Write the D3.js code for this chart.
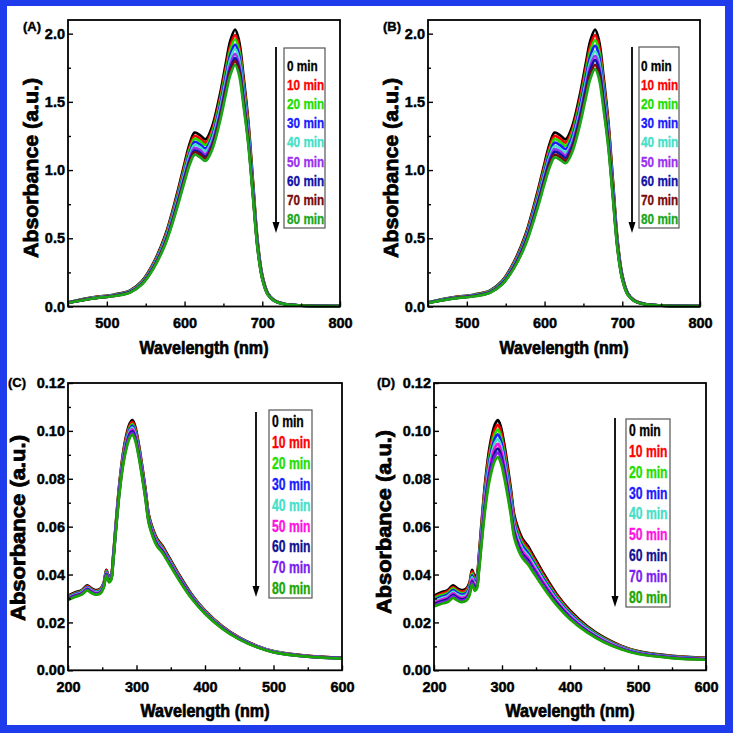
<!DOCTYPE html>
<html><head><meta charset="utf-8">
<script src="https://cdn.jsdelivr.net/npm/d3@7"></script>
<style>html,body{margin:0;padding:0;background:#fff;} svg{display:block;}</style>
</head><body><svg id="c" width="734" height="734"></svg>
<script>
// ---------- data ----------
const times = ["0 min","10 min","20 min","30 min","40 min","50 min","60 min","70 min","80 min"];
const colorsAB = ["#000000","#ff0000","#22dd00","#1a1aff","#44e0c8","#9b30f0","#1010a8","#7a0a0a","#1aa61a"];
const colorsCD = ["#000000","#ff0000","#22dd00","#1a1aff","#44e0c8","#ff10e0","#101090","#7a1cf0","#1aa600"];

const xTicksAB = [500,600,700,800], xMinorAB = [450,550,650,750];
const yTicksAB = [0,0.5,1.0,1.5,2.0], yMinorAB = [0.25,0.75,1.25,1.75];
const xTicksCD = [200,300,400,500,600], xMinorCD = [250,350,450,550];
const yTicksCD = [0,0.02,0.04,0.06,0.08,0.10,0.12], yMinorCD = [0.01,0.03,0.05,0.07,0.09,0.11];

const wlAB = [450,480,510,530,545,560,575,590,600,607,613,620,627,635,645,653,659,665,670,676,682,688,694,700,707,715,728,750,800];
const a00 = [0.030,0.065,0.088,0.118,0.185,0.320,0.520,0.820,1.050,1.200,1.275,1.255,1.225,1.310,1.540,1.780,1.950,2.030,1.950,1.680,1.360,0.920,0.480,0.230,0.100,0.048,0.020,0.008,0.003];
const a10 = [0.029,0.064,0.086,0.116,0.181,0.314,0.510,0.804,1.029,1.176,1.250,1.230,1.201,1.284,1.509,1.744,1.911,1.989,1.911,1.646,1.333,0.902,0.470,0.225,0.098,0.047,0.020,0.008,0.003];
const a20 = [0.029,0.063,0.085,0.114,0.179,0.309,0.502,0.791,1.013,1.158,1.230,1.211,1.182,1.264,1.486,1.718,1.882,1.959,1.882,1.621,1.312,0.888,0.463,0.222,0.097,0.046,0.019,0.008,0.003];
const a30 = [0.028,0.061,0.083,0.112,0.175,0.303,0.492,0.776,0.993,1.135,1.206,1.187,1.159,1.239,1.457,1.684,1.845,1.920,1.845,1.589,1.287,0.870,0.454,0.218,0.095,0.045,0.019,0.008,0.003];
const a40 = [0.028,0.060,0.082,0.110,0.172,0.298,0.484,0.763,0.977,1.116,1.186,1.167,1.139,1.218,1.432,1.655,1.814,1.888,1.814,1.562,1.265,0.856,0.446,0.214,0.093,0.045,0.019,0.007,0.003];
const a50 = [0.027,0.059,0.080,0.108,0.169,0.292,0.474,0.748,0.958,1.094,1.163,1.145,1.117,1.195,1.404,1.623,1.778,1.851,1.778,1.532,1.240,0.839,0.438,0.210,0.091,0.044,0.018,0.007,0.003];
const a60 = [0.027,0.058,0.079,0.106,0.166,0.287,0.466,0.736,0.942,1.076,1.144,1.126,1.099,1.175,1.381,1.597,1.749,1.821,1.749,1.507,1.220,0.825,0.431,0.206,0.090,0.043,0.018,0.007,0.003];
const a70 = [0.027,0.058,0.078,0.105,0.164,0.284,0.461,0.727,0.930,1.063,1.130,1.112,1.085,1.161,1.364,1.577,1.728,1.799,1.728,1.488,1.205,0.815,0.425,0.204,0.089,0.043,0.018,0.007,0.003];
const a80 = [0.026,0.057,0.077,0.103,0.161,0.279,0.453,0.715,0.916,1.046,1.112,1.094,1.068,1.142,1.343,1.552,1.700,1.770,1.700,1.465,1.186,0.802,0.419,0.201,0.087,0.042,0.017,0.007,0.003];

const b00 = [0.030,0.065,0.088,0.118,0.185,0.320,0.520,0.820,1.050,1.200,1.275,1.255,1.225,1.310,1.540,1.780,1.950,2.030,1.950,1.680,1.360,0.920,0.480,0.230,0.100,0.048,0.020,0.008,0.003];
const b10 = [0.029,0.064,0.086,0.116,0.181,0.314,0.510,0.804,1.029,1.176,1.250,1.230,1.201,1.284,1.509,1.744,1.911,1.989,1.911,1.646,1.333,0.902,0.470,0.225,0.098,0.047,0.020,0.008,0.003];
const b20 = [0.029,0.063,0.085,0.114,0.178,0.308,0.500,0.789,1.010,1.154,1.227,1.207,1.178,1.260,1.481,1.712,1.876,1.953,1.876,1.616,1.308,0.885,0.462,0.221,0.096,0.046,0.019,0.008,0.003];
const b30 = [0.028,0.061,0.083,0.111,0.174,0.301,0.490,0.772,0.989,1.130,1.201,1.182,1.154,1.234,1.451,1.677,1.837,1.912,1.837,1.583,1.281,0.867,0.452,0.217,0.094,0.045,0.019,0.008,0.003];
const b40 = [0.028,0.060,0.081,0.109,0.171,0.295,0.479,0.756,0.968,1.106,1.176,1.157,1.129,1.208,1.420,1.641,1.798,1.872,1.798,1.549,1.254,0.848,0.443,0.212,0.092,0.044,0.018,0.007,0.003];
const b50 = [0.027,0.059,0.080,0.107,0.167,0.290,0.471,0.742,0.950,1.086,1.154,1.136,1.109,1.186,1.394,1.611,1.765,1.837,1.765,1.520,1.231,0.833,0.434,0.208,0.091,0.043,0.018,0.007,0.003];
const b60 = [0.027,0.058,0.078,0.105,0.165,0.285,0.463,0.730,0.935,1.068,1.135,1.117,1.090,1.166,1.371,1.584,1.736,1.807,1.736,1.495,1.210,0.819,0.427,0.205,0.089,0.043,0.018,0.007,0.003];
const b70 = [0.026,0.057,0.077,0.103,0.162,0.279,0.454,0.716,0.917,1.048,1.113,1.096,1.069,1.144,1.344,1.554,1.702,1.772,1.702,1.467,1.187,0.803,0.419,0.201,0.087,0.042,0.017,0.007,0.003];
const b80 = [0.026,0.056,0.075,0.101,0.159,0.274,0.446,0.703,0.900,1.028,1.093,1.076,1.050,1.123,1.320,1.525,1.671,1.740,1.671,1.440,1.166,0.788,0.411,0.197,0.086,0.041,0.017,0.007,0.003];

const wlCD = [200,210,220,228,233,240,247,252,256,260,263,266,270,275,280,285,290,294,298,303,308,313,318,324,330,338,346,360,380,400,425,450,475,500,550,600];
const c00 = [0.0312,0.0325,0.0335,0.0355,0.0345,0.0335,0.0340,0.0365,0.0420,0.0390,0.0400,0.0480,0.0620,0.0780,0.0900,0.0980,0.1030,0.1045,0.1020,0.0950,0.0860,0.0760,0.0650,0.0590,0.0550,0.0520,0.0480,0.0410,0.0320,0.0250,0.0185,0.0137,0.0103,0.0080,0.0060,0.0052];
const c10 = [0.0310,0.0322,0.0332,0.0352,0.0342,0.0332,0.0337,0.0362,0.0417,0.0387,0.0397,0.0476,0.0615,0.0774,0.0893,0.0972,0.1022,0.1037,0.1012,0.0942,0.0853,0.0754,0.0645,0.0585,0.0546,0.0516,0.0476,0.0407,0.0317,0.0248,0.0184,0.0136,0.0102,0.0079,0.0060,0.0052];
const c20 = [0.0307,0.0320,0.0330,0.0349,0.0339,0.0330,0.0335,0.0359,0.0413,0.0384,0.0394,0.0472,0.0610,0.0768,0.0886,0.0964,0.1014,0.1028,0.1004,0.0935,0.0846,0.0748,0.0640,0.0581,0.0541,0.0512,0.0472,0.0403,0.0315,0.0246,0.0182,0.0135,0.0101,0.0079,0.0059,0.0051];
const c30 = [0.0305,0.0318,0.0327,0.0347,0.0337,0.0327,0.0332,0.0357,0.0410,0.0381,0.0391,0.0469,0.0606,0.0762,0.0879,0.0957,0.1006,0.1021,0.0997,0.0928,0.0840,0.0743,0.0635,0.0576,0.0537,0.0508,0.0469,0.0401,0.0313,0.0244,0.0181,0.0134,0.0101,0.0078,0.0059,0.0051];
const c40 = [0.0303,0.0315,0.0325,0.0344,0.0335,0.0325,0.0330,0.0354,0.0407,0.0378,0.0388,0.0466,0.0601,0.0757,0.0873,0.0951,0.0999,0.1014,0.0989,0.0922,0.0834,0.0737,0.0631,0.0572,0.0534,0.0504,0.0466,0.0398,0.0310,0.0243,0.0179,0.0133,0.0100,0.0078,0.0058,0.0050];
const c50 = [0.0300,0.0313,0.0323,0.0342,0.0332,0.0323,0.0327,0.0351,0.0404,0.0376,0.0385,0.0462,0.0597,0.0751,0.0867,0.0944,0.0992,0.1006,0.0982,0.0915,0.0828,0.0732,0.0626,0.0568,0.0530,0.0501,0.0462,0.0395,0.0308,0.0241,0.0178,0.0132,0.0099,0.0077,0.0058,0.0050];
const c60 = [0.0298,0.0311,0.0320,0.0339,0.0330,0.0320,0.0325,0.0349,0.0402,0.0373,0.0382,0.0459,0.0593,0.0746,0.0860,0.0937,0.0985,0.0999,0.0975,0.0908,0.0822,0.0727,0.0621,0.0564,0.0526,0.0497,0.0459,0.0392,0.0306,0.0239,0.0177,0.0131,0.0098,0.0076,0.0057,0.0050];
const c70 = [0.0296,0.0308,0.0318,0.0337,0.0327,0.0318,0.0323,0.0346,0.0399,0.0370,0.0380,0.0456,0.0588,0.0740,0.0854,0.0930,0.0977,0.0992,0.0968,0.0902,0.0816,0.0721,0.0617,0.0560,0.0522,0.0493,0.0456,0.0389,0.0304,0.0237,0.0176,0.0130,0.0098,0.0076,0.0057,0.0049];
const c80 = [0.0294,0.0306,0.0316,0.0334,0.0325,0.0316,0.0320,0.0344,0.0396,0.0367,0.0377,0.0452,0.0584,0.0735,0.0848,0.0923,0.0970,0.0984,0.0961,0.0895,0.0810,0.0716,0.0612,0.0556,0.0518,0.0490,0.0452,0.0386,0.0301,0.0236,0.0174,0.0129,0.0097,0.0075,0.0057,0.0049];

const d00 = [0.0312,0.0325,0.0335,0.0355,0.0345,0.0335,0.0340,0.0365,0.0420,0.0390,0.0400,0.0480,0.0620,0.0780,0.0900,0.0980,0.1030,0.1045,0.1020,0.0950,0.0860,0.0760,0.0650,0.0590,0.0550,0.0520,0.0480,0.0410,0.0320,0.0250,0.0185,0.0137,0.0103,0.0080,0.0060,0.0052];
const d10 = [0.0306,0.0319,0.0329,0.0348,0.0338,0.0329,0.0334,0.0358,0.0412,0.0383,0.0392,0.0471,0.0608,0.0765,0.0883,0.0961,0.1010,0.1025,0.1001,0.0932,0.0844,0.0746,0.0638,0.0579,0.0540,0.0510,0.0471,0.0402,0.0314,0.0245,0.0181,0.0134,0.0101,0.0078,0.0059,0.0051];
const d20 = [0.0300,0.0313,0.0322,0.0342,0.0332,0.0322,0.0327,0.0351,0.0404,0.0375,0.0385,0.0462,0.0596,0.0750,0.0866,0.0943,0.0991,0.1005,0.0981,0.0914,0.0827,0.0731,0.0625,0.0568,0.0529,0.0500,0.0462,0.0394,0.0308,0.0241,0.0178,0.0132,0.0099,0.0077,0.0058,0.0050];
const d30 = [0.0294,0.0306,0.0316,0.0335,0.0325,0.0316,0.0321,0.0344,0.0396,0.0368,0.0377,0.0453,0.0585,0.0736,0.0849,0.0924,0.0971,0.0985,0.0962,0.0896,0.0811,0.0717,0.0613,0.0556,0.0519,0.0490,0.0453,0.0387,0.0302,0.0236,0.0174,0.0129,0.0097,0.0075,0.0057,0.0049];
const d40 = [0.0288,0.0300,0.0310,0.0328,0.0319,0.0310,0.0314,0.0337,0.0388,0.0360,0.0370,0.0444,0.0573,0.0721,0.0832,0.0906,0.0952,0.0966,0.0942,0.0878,0.0795,0.0702,0.0601,0.0545,0.0508,0.0480,0.0444,0.0379,0.0296,0.0231,0.0171,0.0127,0.0095,0.0074,0.0055,0.0048];
const d50 = [0.0282,0.0294,0.0303,0.0321,0.0312,0.0303,0.0308,0.0330,0.0380,0.0353,0.0362,0.0434,0.0561,0.0706,0.0815,0.0887,0.0932,0.0946,0.0923,0.0860,0.0778,0.0688,0.0588,0.0534,0.0498,0.0471,0.0434,0.0371,0.0290,0.0226,0.0167,0.0124,0.0093,0.0072,0.0054,0.0047];
const d60 = [0.0276,0.0288,0.0297,0.0315,0.0306,0.0297,0.0301,0.0323,0.0372,0.0346,0.0354,0.0425,0.0549,0.0691,0.0797,0.0868,0.0913,0.0926,0.0904,0.0842,0.0762,0.0673,0.0576,0.0523,0.0487,0.0461,0.0425,0.0363,0.0284,0.0222,0.0164,0.0121,0.0091,0.0071,0.0053,0.0046];
const d70 = [0.0271,0.0283,0.0291,0.0309,0.0300,0.0291,0.0296,0.0318,0.0365,0.0339,0.0348,0.0418,0.0539,0.0679,0.0783,0.0853,0.0896,0.0909,0.0887,0.0827,0.0748,0.0661,0.0566,0.0513,0.0479,0.0452,0.0418,0.0357,0.0278,0.0218,0.0161,0.0119,0.0090,0.0070,0.0052,0.0045];
const d80 = [0.0266,0.0277,0.0285,0.0302,0.0294,0.0285,0.0290,0.0311,0.0358,0.0332,0.0341,0.0409,0.0528,0.0665,0.0767,0.0835,0.0878,0.0890,0.0869,0.0809,0.0733,0.0648,0.0554,0.0503,0.0469,0.0443,0.0409,0.0349,0.0273,0.0213,0.0158,0.0117,0.0088,0.0068,0.0051,0.0044];

// ---------- drawing ----------
const FONT = "'Liberation Sans', Arial, Helvetica, sans-serif";
const svg = d3.select("#c");
svg.append("rect").attr("x",0).attr("y",0).attr("width",733).attr("height",733).attr("fill","#1e3ceb");
svg.append("rect").attr("x",7).attr("y",6).attr("width",718).attr("height",719).attr("fill","#fff");

function condense(sel, factor){
  sel.each(function(){
    const w = this.getComputedTextLength();
    d3.select(this).attr("textLength", w*factor).attr("lengthAdjust","spacingAndGlyphs");
  });
}
function heavy(sel, sw){
  sel.attr("stroke", function(){ return d3.select(this).attr("fill") || "#000"; })
     .attr("stroke-width", sw).attr("paint-order","stroke");
}

function panel(p){
  const x = d3.scaleLinear().domain(p.xDomain).range([p.left,p.right]);
  const y = d3.scaleLinear().domain(p.yDomain).range([p.bottom,p.top]);
  const g = svg.append("g");
  const line = d3.line().x((d,i)=>x(p.wl[i])).y(d=>y(d)).curve(d3.curveCatmullRom.alpha(0.5));
  g.selectAll("path.s").data(p.series).join("path").attr("class","s")
    .attr("d", line).attr("fill","none")
    .attr("stroke",(d,i)=>p.colors[i]).attr("stroke-width",2.7)
    .attr("stroke-linejoin","round");

  function styleAxis(a, withText){
    a.select(".domain").remove();
    a.selectAll("line").attr("stroke","#000").attr("stroke-width",1.4);
    if(withText){
      const t = a.selectAll("text").attr("font-family",FONT).attr("font-weight","bold")
        .attr("font-size",14.5).attr("fill","#000");
      heavy(t,0.45);
    }
  }
  const xa = g.append("g").attr("transform",`translate(0,${p.bottom})`)
    .call(d3.axisBottom(x).tickValues(p.xTicks).tickSize(-5).tickPadding(11).tickFormat(d3.format("d")));
  styleAxis(xa,true);
  const xm = g.append("g").attr("transform",`translate(0,${p.bottom})`)
    .call(d3.axisBottom(x).tickValues(p.xMinor).tickSize(-3).tickFormat(""));
  styleAxis(xm,false);
  const ya = g.append("g").attr("transform",`translate(${p.left},0)`)
    .call(d3.axisLeft(y).tickValues(p.yTicks).tickSize(-5).tickPadding(3).tickFormat(d3.format(p.yFmt)));
  styleAxis(ya,true);
  const ym = g.append("g").attr("transform",`translate(${p.left},0)`)
    .call(d3.axisLeft(y).tickValues(p.yMinor).tickSize(-3).tickFormat(""));
  styleAxis(ym,false);

  g.append("rect").attr("x",p.left).attr("y",p.top).attr("width",p.right-p.left)
    .attr("height",p.bottom-p.top).attr("fill","none").attr("stroke","#000").attr("stroke-width",1.8);

  // titles
  const xt = g.append("text").attr("x",(p.left+p.right)/2).attr("y",p.xTitleY).attr("text-anchor","middle")
    .attr("font-family",FONT).attr("font-weight","bold").attr("font-size",18.5).attr("fill","#000")
    .attr("textLength",129).attr("lengthAdjust","spacingAndGlyphs").text("Wavelength (nm)");
  heavy(xt,0.7);
  const yt = g.append("text").attr("transform",`translate(${p.yTitleX},${p.yTitleC}) rotate(-90)`)
    .attr("text-anchor","middle").attr("font-family",FONT).attr("font-weight","bold").attr("fill","#000")
    .attr("font-size",p.yTitleSize).attr("textLength",p.yTitleLen).attr("lengthAdjust","spacingAndGlyphs")
    .text("Absorbance (a.u.)");
  heavy(yt,0.8);
  const lb = g.append("text").attr("x",p.labX).attr("y",p.labY).attr("font-family",FONT).attr("fill","#000")
    .attr("font-weight","bold").attr("font-size",13).text(p.label);
  heavy(lb,0.4);

  // arrow
  g.append("line").attr("x1",p.arrX).attr("x2",p.arrX).attr("y1",p.arrY1).attr("y2",p.arrY2-8)
    .attr("stroke","#000").attr("stroke-width",1.8);
  g.append("path").attr("d",`M${p.arrX-3.5},${p.arrY2-11}L${p.arrX+3.5},${p.arrY2-11}L${p.arrX},${p.arrY2}Z`)
    .attr("fill","#000");

  // legend
  g.append("rect").attr("x",p.legX0).attr("y",p.legY0).attr("width",p.legX1-p.legX0)
    .attr("height",p.legY1-p.legY0).attr("fill","#fff").attr("stroke","#555").attr("stroke-width",1.2);
  const lt = g.selectAll("text.leg").data(times).join("text").attr("class","leg")
    .attr("x",p.legTx).attr("y",(d,i)=>p.legFirst+i*p.legStep).attr("dy","0.36em")
    .attr("font-family",FONT).attr("font-weight","bold").attr("font-size",p.legSize)
    .attr("fill",(d,i)=>p.colors[i]).text(d=>d);
  condense(lt,0.76);
  heavy(lt,0.35);
}

panel({label:"(A)",labX:23,labY:31,left:68,right:340,top:20,bottom:306.5,
  xDomain:[450,800],yDomain:[0,2.1],xTicks:xTicksAB,xMinor:xMinorAB,yTicks:yTicksAB,yMinor:yMinorAB,yFmt:".1f",
  wl:wlAB,series:[a00,a10,a20,a30,a40,a50,a60,a70,a80],colors:colorsAB,
  xTitleY:354,yTitleX:38,yTitleC:168,yTitleSize:21,yTitleLen:180,
  arrX:276,arrY1:47,arrY2:233,legX0:284,legX1:325,legY0:48,legY1:228,legTx:287,legFirst:65,legStep:19.2,legSize:15.5});
panel({label:"(B)",labX:383,labY:31,left:428,right:700,top:20,bottom:306.5,
  xDomain:[450,800],yDomain:[0,2.1],xTicks:xTicksAB,xMinor:xMinorAB,yTicks:yTicksAB,yMinor:yMinorAB,yFmt:".1f",
  wl:wlAB,series:[b00,b10,b20,b30,b40,b50,b60,b70,b80],colors:colorsAB,
  xTitleY:354,yTitleX:398,yTitleC:168,yTitleSize:21,yTitleLen:180,
  arrX:632,arrY1:47,arrY2:233,legX0:639,legX1:679,legY0:47,legY1:228,legTx:641,legFirst:65,legStep:19.2,legSize:15.5});
panel({label:"(C)",labX:8,labY:387,left:68,right:342,top:383,bottom:670.3,
  xDomain:[200,600],yDomain:[0,0.12],xTicks:xTicksCD,xMinor:xMinorCD,yTicks:yTicksCD,yMinor:yMinorCD,yFmt:".2f",
  wl:wlCD,series:[c00,c10,c20,c30,c40,c50,c60,c70,c80],colors:colorsCD,
  xTitleY:717,yTitleX:25,yTitleC:528,yTitleSize:20,yTitleLen:186,
  arrX:256,arrY1:412,arrY2:597,legX0:269,legX1:312,legY0:410,legY1:598,legTx:272,legFirst:421.5,legStep:20.85,legSize:16});
panel({label:"(D)",labX:377,labY:387,left:434,right:706,top:383,bottom:670.3,
  xDomain:[200,600],yDomain:[0,0.12],xTicks:xTicksCD,xMinor:xMinorCD,yTicks:yTicksCD,yMinor:yMinorCD,yFmt:".2f",
  wl:wlCD,series:[d00,d10,d20,d30,d40,d50,d60,d70,d80],colors:colorsCD,
  xTitleY:717,yTitleX:391,yTitleC:522,yTitleSize:20,yTitleLen:184,
  arrX:615,arrY1:418,arrY2:607,legX0:626,legX1:670,legY0:419,legY1:607,legTx:629,legFirst:430.3,legStep:20.85,legSize:16});
</script></body></html>
